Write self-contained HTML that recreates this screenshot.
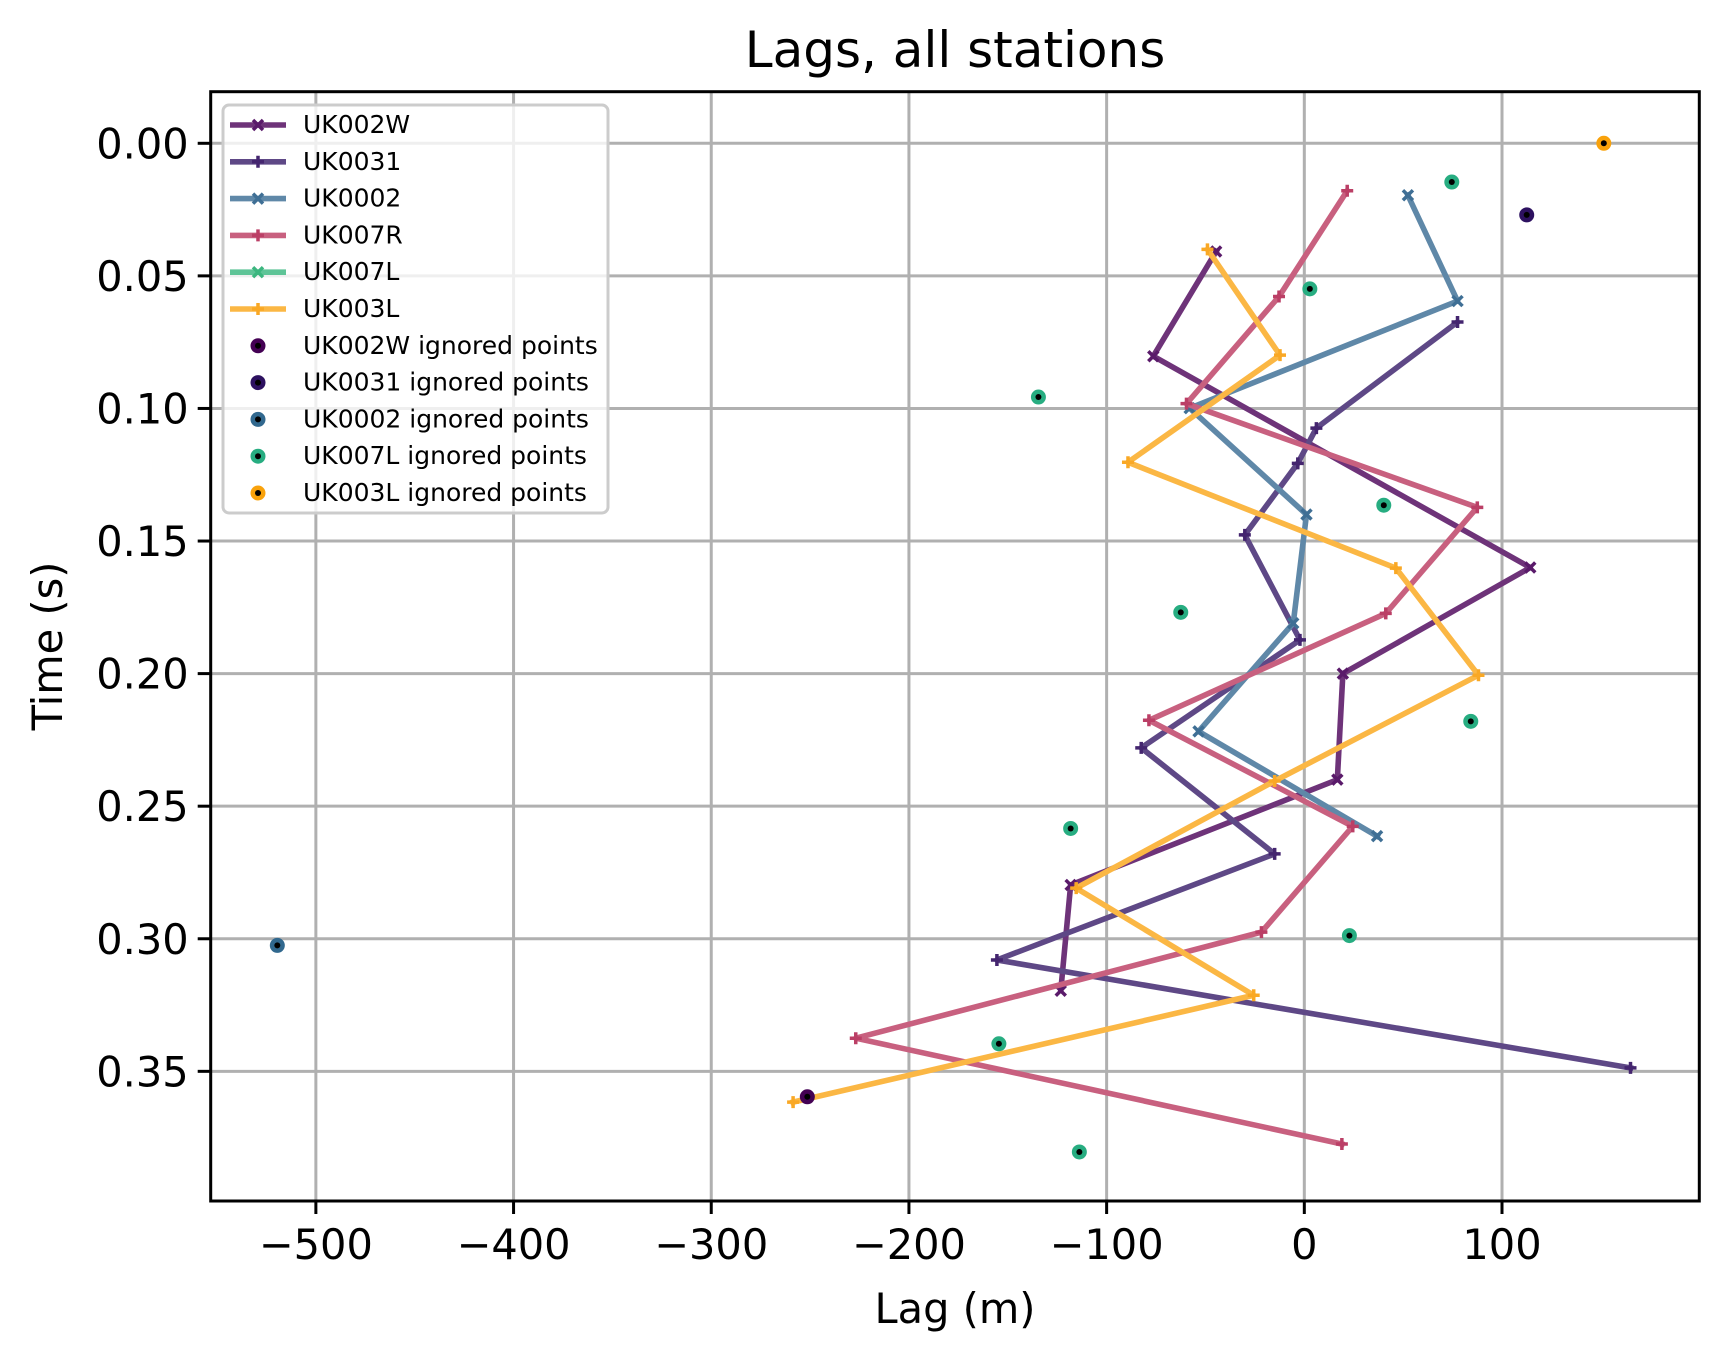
<!DOCTYPE html>
<html><head><meta charset="utf-8"><style>
html,body{margin:0;padding:0;background:#fff;}
svg{display:block;font-family:"DejaVu Sans","Liberation Sans",sans-serif;}
</style></head><body>
<svg id="chart" width="1728" height="1361" viewBox="0 0 1728 1361" xmlns="http://www.w3.org/2000/svg">
<rect width="1728" height="1361" fill="#fff"/>
<text x="955" y="67" font-size="50" text-anchor="middle">Lags, all stations</text>
<text x="955" y="1323" font-size="41.5" text-anchor="middle">Lag (m)</text>
<text x="0" y="0" font-size="41.5" text-anchor="middle" transform="translate(62,646) rotate(-90)">Time (s)</text>
<g id="grid"></g>
<g id="series"></g>
<g id="axes"></g>
<g id="legend"></g>
</svg>
<script>
const xTicks = [-500, -400, -300, -200, -100, 0, 100];
const yTicks = [0.00, 0.05, 0.10, 0.15, 0.20, 0.25, 0.30, 0.35];
const yTickLabels = ["0.00","0.05","0.10","0.15","0.20","0.25","0.30","0.35"];
const seriesNames = ["UK002W","UK0031","UK0002","UK007R","UK007L","UK003L"];
const uk002wLag = [-44.6, -76.4, 114.3, 19.5, 16.7, -118.2, -123.2];
const uk002wTime = [0.0408, 0.0803, 0.160, 0.200, 0.240, 0.2797, 0.3196];
const uk0031Lag = [77.5, 6.1, -3.3, -30.1, -2.2, -82.5, -15, -155.5, 165];
const uk0031Time = [0.0674, 0.1074, 0.1207, 0.1477, 0.1873, 0.228, 0.268, 0.308, 0.3487];
const uk0002Lag = [52.4, 77.5, -58, 1.1, -5.6, -53.5, 36.8];
const uk0002Time = [0.0196, 0.0595, 0.0999, 0.140, 0.181, 0.2218, 0.2613];
const uk007rLag = [21.7, -12.8, -59.6, 87.5, 41.2, -78.6, 24.5, -21.7, -226.9, 19];
const uk007rTime = [0.0179, 0.0578, 0.0982, 0.1373, 0.1773, 0.2176, 0.2576, 0.2975, 0.3375, 0.3774];
const uk007lLag = [];
const uk007lTime = [];
const uk003lLag = [-49, -12.3, -89.2, 46.3, 88.1, -15, -115.4, -25.6, -258.6];
const uk003lTime = [0.040, 0.0799, 0.1203, 0.1602, 0.2006, 0.2405, 0.2809, 0.3213, 0.3616];
const ign002wLag = [-251.4];
const ign002wTime = [0.3596];
const ign0031Lag = [112.5];
const ign0031Time = [0.027];
const ign0002Lag = [-519.5];
const ign0002Time = [0.3025];
const ign007lLag = [74.6, 2.8, -134.5, 40.2, -62.5, 84.2, -118.2, 22.8, -154.5, -113.8];
const ign007lTime = [0.0146, 0.0549, 0.0957, 0.1365, 0.1769, 0.218, 0.2584, 0.2988, 0.3396, 0.3804];
const ign003lLag = [151.5];
const ign003lTime = [0.0];

const NS = "http://www.w3.org/2000/svg";
const L = 210.7, R = 1699.3, T = 91.7, B = 1201;
const xMin = -553.2, xMax = 199.8, yMin = -0.01946, yMax = 0.3989;
function xs(v){ return L + (v - xMin) / (xMax - xMin) * (R - L); }
function ys(v){ return T + (v - yMin) / (yMax - yMin) * (B - T); }
function mk(tag, attrs, parent){ const e = document.createElementNS(NS, tag); for (const k in attrs) e.setAttribute(k, attrs[k]); parent.appendChild(e); return e; }

const grid = document.getElementById('grid');
const axes = document.getElementById('axes');
const series = document.getElementById('series');
const legend = document.getElementById('legend');

xTicks.forEach(v => {
  const g = mk('line', {x1: xs(v), x2: xs(v), y1: T, y2: B, stroke: '#b0b0b0', 'stroke-width': 3}, grid);
  
  
  const t = mk('line', {x1: xs(v), x2: xs(v), y1: B, y2: B + 13, stroke: '#000', 'stroke-width': 3}, axes);
  
  
  const lb = mk('text', {x: xs(v), y: B + 58, 'font-size': 41.5, 'text-anchor': 'middle'}, axes);
  lb.textContent = v < 0 ? '\u2212' + Math.abs(v) : String(v);
  
  
});
yTicks.forEach((v, i) => {
  const g = mk('line', {x1: L, x2: R, y1: ys(v), y2: ys(v), stroke: '#b0b0b0', 'stroke-width': 3}, grid);
  
  
  const t = mk('line', {x1: L - 13, x2: L, y1: ys(v), y2: ys(v), stroke: '#000', 'stroke-width': 3}, axes);
  
  
  const lb = mk('text', {x: L - 22, y: ys(v) + 15, 'font-size': 41.5, 'text-anchor': 'end'}, axes);
  lb.textContent = yTickLabels[i];
  
  
});
const frame = mk('rect', {x: L, y: T, width: R - L, height: B - T, fill: 'none', stroke: '#000', 'stroke-width': 3}, axes);



function marker(parent, x, y, type, color){
  const s = 5;
  let d;
  if (type === 'x') d = `M${x-s},${y-s}L${x+s},${y+s}M${x-s},${y+s}L${x+s},${y-s}`;
  else d = `M${x-s-1},${y}L${x+s+1},${y}M${x},${y-s-1}L${x},${y+s+1}`;
  return mk('path', {d: d, stroke: color, 'stroke-width': 3.5, fill: 'none'}, parent);
}

const lineSeries = [
  {name: 'UK002W', lag: uk002wLag, time: uk002wTime, color: '#6e3379', mc: '#5a1a6a', m: 'x'},
  {name: 'UK0031', lag: uk0031Lag, time: uk0031Time, color: '#5e4886', mc: '#44256f', m: '+'},
  {name: 'UK0002', lag: uk0002Lag, time: uk0002Time, color: '#5f88a8', mc: '#3f6f95', m: 'x'},
  {name: 'UK007R', lag: uk007rLag, time: uk007rTime, color: '#c8607f', mc: '#bb3f66', m: '+'},
  {name: 'UK007L', lag: uk007lLag, time: uk007lTime, color: '#5ec497', mc: '#3cb67f', m: 'x'},
  {name: 'UK003L', lag: uk003lLag, time: uk003lTime, color: '#fbb744', mc: '#f9a825', m: '+'}
];
lineSeries.forEach(s => {
  const g = mk('g', {}, series);
  
  
  if (s.lag.length) {
    const pts = s.lag.map((v, i) => xs(v) + ',' + ys(s.time[i])).join(' ');
    const pl = mk('polyline', {points: pts, fill: 'none', stroke: s.color, 'stroke-width': 5.6, 'stroke-linejoin': 'round', 'stroke-linecap': 'square'}, g);
    
    
  }
  s.lag.forEach((v, i) => {
    const m = marker(g, xs(v), ys(s.time[i]), s.m, s.mc);
    
    
  });
});

const ignSeries = [
  {name: 'UK002W', lag: ign002wLag, time: ign002wTime, color: '#440154'},
  {name: 'UK0031', lag: ign0031Lag, time: ign0031Time, color: '#2d1160'},
  {name: 'UK0002', lag: ign0002Lag, time: ign0002Time, color: '#31688e'},
  {name: 'UK007L', lag: ign007lLag, time: ign007lTime, color: '#27ad81'},
  {name: 'UK003L', lag: ign003lLag, time: ign003lTime, color: '#f9a20b'}
];
ignSeries.forEach(s => {
  s.lag.forEach((v, i) => {
    const c = mk('circle', {cx: xs(v), cy: ys(s.time[i]), r: 7.5, fill: s.color}, series);
    
    
    const d = mk('circle', {cx: xs(v), cy: ys(s.time[i]), r: 3, fill: '#000'}, series);
    
    
  });
});

// legend
const lbox = mk('rect', {x: 223, y: 105, width: 385, height: 408, rx: 6, fill: 'rgba(255,255,255,0.8)', stroke: '#cccccc', 'stroke-width': 3}, legend);


const rowH = 36.8;
lineSeries.forEach((s, i) => {
  const y = 125 + i * rowH;
  const g = mk('g', {}, legend);
  
  
  mk('line', {x1: 230, x2: 286, y1: y, y2: y, stroke: s.color, 'stroke-width': 5.6}, g);
  marker(g, 258, y, s.m, s.mc);
  const t = mk('text', {x: 303, y: y + 8, 'font-size': 25}, g);
  t.textContent = s.name;
});
ignSeries.forEach((s, i) => {
  const y = 125 + (6 + i) * rowH;
  const g = mk('g', {}, legend);
  
  
  mk('circle', {cx: 258, cy: y, r: 7.5, fill: s.color}, g);
  mk('circle', {cx: 258, cy: y, r: 3, fill: '#000'}, g);
  const t = mk('text', {x: 303, y: y + 8, 'font-size': 25}, g);
  t.textContent = s.name + ' ignored points';
});
</script>
</body></html>
